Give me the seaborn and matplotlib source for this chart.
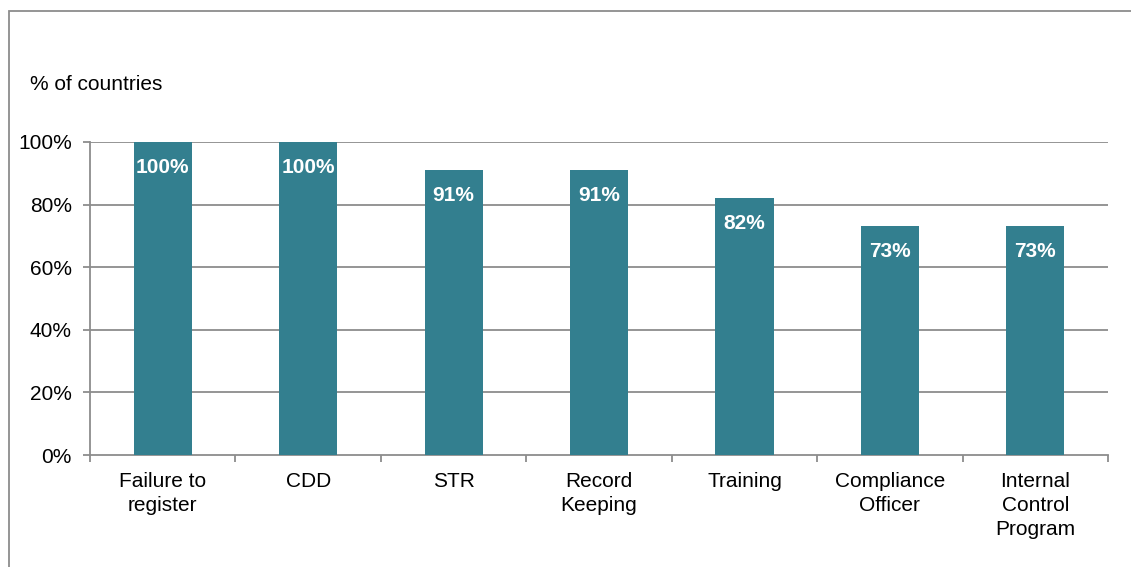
import matplotlib.pyplot as plt
import matplotlib.patches as patches
import seaborn as sns
import numpy as np
import pandas as pd

categories = ['Failure to\nregister', 'CDD', 'STR', 'Record\nKeeping', 'Training',
              'Compliance\nOfficer', 'Internal\nControl\nProgram']
values = [100, 100, 91, 91, 82, 73, 73]
y_ticks = [0, 20, 40, 60, 80, 100]

df = pd.DataFrame({'category': categories, 'value': values})

sns.set_style('white')
plt.rcParams['font.family'] = ['Liberation Sans', 'DejaVu Sans']
plt.rcParams['text.color'] = 'black'
plt.rcParams['xtick.color'] = 'black'
plt.rcParams['ytick.color'] = 'black'

fig = plt.figure(figsize=(11.31, 5.67), dpi=100)
ax = fig.add_axes([0.0796, 0.1975, 0.9001, 0.5521])

bar_color = '#337F8F'
grid_color = '#8C8C8C'

sns.barplot(data=df, x='category', y='value', color=bar_color, width=0.4,
            saturation=1, linewidth=0, ax=ax, zorder=3)

ax.set_ylim(0, 100)
ax.set_xlim(-0.5, len(categories) - 0.5)
ax.set_yticks(y_ticks)
ax.set_yticklabels([f'{t}%' for t in y_ticks], fontsize=15)
ax.set_xticklabels(categories, fontsize=15, linespacing=1.33)
ax.set_xlabel('')
ax.set_ylabel('')

# gridlines
for t in y_ticks[1:]:
    ax.axhline(t, color=grid_color, lw=1.3, zorder=1)

for s in ['top', 'right']:
    ax.spines[s].set_visible(False)
for s in ['left', 'bottom']:
    ax.spines[s].set_color(grid_color)
    ax.spines[s].set_linewidth(1.3)

ax.tick_params(axis='y', which='major', length=5, color=grid_color, width=1.3, pad=8,
               left=True, labelcolor='black')
ax.tick_params(axis='x', which='major', length=0, pad=12.5, labelcolor='black')
ax.set_xticks(np.arange(-0.5, len(categories)), minor=True)
ax.tick_params(axis='x', which='minor', length=5, color=grid_color, width=1.3, bottom=True)

# value labels inside bars
for i, v in enumerate(values):
    ax.text(i, v - 8, f'{v}%', ha='center', va='center', color='white',
            fontsize=15, fontweight='bold', zorder=4)

fig.text(30 / 1131, 1 - 85 / 567, '% of countries', fontsize=15, va='center', ha='left')

# outer frame
frame = patches.Rectangle((9 / 1131, -0.1), 1.2, 1 - 11 / 567 + 0.1, transform=fig.transFigure,
                          fill=False, edgecolor='#8C8C8C', lw=1.3)
fig.patches.append(frame)

fig.savefig('out.png', dpi=100)
plt.close()
